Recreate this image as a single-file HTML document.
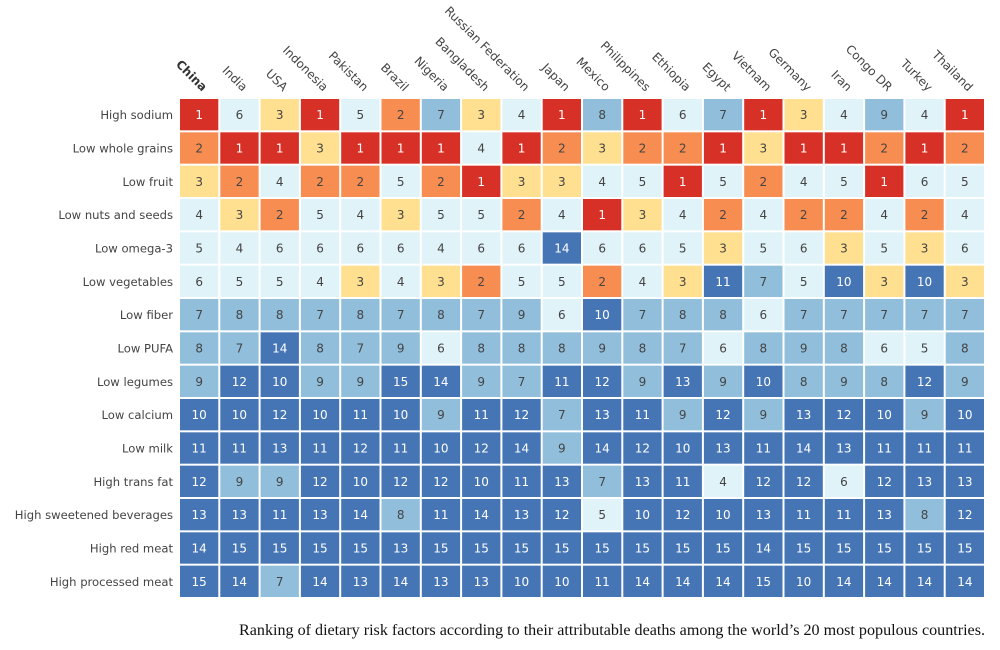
<!DOCTYPE html>
<html><head><meta charset="utf-8"><style>
body{margin:0;background:#fff;width:1000px;height:650px;overflow:hidden}
svg{display:block}
</style></head><body>
<svg id="chart" width="1000" height="650" xmlns="http://www.w3.org/2000/svg">
<text x="985" y="635" text-anchor="end" font-family="Liberation Serif, serif" font-size="16.1" fill="#111">Ranking of dietary risk factors according to their attributable deaths among the world’s 20 most populous countries.</text>
</svg>
<script>
const countries=["China","India","USA","Indonesia","Pakistan","Brazil","Nigeria","Bangladesh","Russian Federation","Japan","Mexico","Philippines","Ethiopia","Egypt","Vietnam","Germany","Iran","Congo DR","Turkey","Thailand"];
const risks=["High sodium","Low whole grains","Low fruit","Low nuts and seeds","Low omega-3","Low vegetables","Low fiber","Low PUFA","Low legumes","Low calcium","Low milk","High trans fat","High sweetened beverages","High red meat","High processed meat"];
const ranks=[
[1,6,3,1,5,2,7,3,4,1,8,1,6,7,1,3,4,9,4,1],
[2,1,1,3,1,1,1,4,1,2,3,2,2,1,3,1,1,2,1,2],
[3,2,4,2,2,5,2,1,3,3,4,5,1,5,2,4,5,1,6,5],
[4,3,2,5,4,3,5,5,2,4,1,3,4,2,4,2,2,4,2,4],
[5,4,6,6,6,6,4,6,6,14,6,6,5,3,5,6,3,5,3,6],
[6,5,5,4,3,4,3,2,5,5,2,4,3,11,7,5,10,3,10,3],
[7,8,8,7,8,7,8,7,9,6,10,7,8,8,6,7,7,7,7,7],
[8,7,14,8,7,9,6,8,8,8,9,8,7,6,8,9,8,6,5,8],
[9,12,10,9,9,15,14,9,7,11,12,9,13,9,10,8,9,8,12,9],
[10,10,12,10,11,10,9,11,12,7,13,11,9,12,9,13,12,10,9,10],
[11,11,13,11,12,11,10,12,14,9,14,12,10,13,11,14,13,11,11,11],
[12,9,9,12,10,12,12,10,11,13,7,13,11,4,12,12,6,12,13,13],
[13,13,11,13,14,8,11,14,13,12,5,10,12,10,13,11,11,13,8,12],
[14,15,15,15,15,13,15,15,15,15,15,15,15,15,14,15,15,15,15,15],
[15,14,7,14,13,14,13,13,10,10,11,14,14,14,15,10,14,14,14,14]
];
const NS="http://www.w3.org/2000/svg";
const svg=document.getElementById('chart');
const x0=179,x1=985,y0=98,y1=598;
const cw=(x1-x0)/countries.length, ch=(y1-y0)/risks.length;
const xPos=i=>x0+i*cw, yPos=j=>y0+j*ch;
function color(v){if(v==1)return"#d73027";if(v==2)return"#f88d52";if(v==3)return"#fee090";if(v<=6)return"#e0f3f8";if(v<=9)return"#91bfdb";return"#4575b4";}
function txtColor(v){return (v==1||v>=10)?"#fff":"#444";}
function mk(tag,attrs){const e=document.createElementNS(NS,tag);for(const k in attrs)e.setAttribute(k,attrs[k]);return e;}
risks.forEach((r,j)=>{
  const t=mk('text',{x:173,y:yPos(j)+ch/2+4.5,'text-anchor':'end','font-family':'DejaVu Sans, sans-serif','font-size':'11.6','fill':'#444'});
  t.textContent=r;
  
  
  svg.appendChild(t);
  ranks[j].forEach((v,i)=>{
    const g=mk('g',{});
    
    
    const rc=mk('rect',{x:xPos(i)+1,y:yPos(j)+1,width:cw-2,height:ch-2,fill:color(v)});
    const tt=mk('text',{x:xPos(i)+cw/2,y:yPos(j)+ch/2+4.5,'text-anchor':'middle','font-family':'DejaVu Sans, sans-serif','font-size':'12','fill':txtColor(v)});
    tt.textContent=v;
    g.appendChild(rc);g.appendChild(tt);svg.appendChild(g);
  });
});
countries.forEach((c,i)=>{
  const cx=xPos(i)+cw/2+3, cy=92;
  const t=mk('text',{x:cx,y:cy,'text-anchor':'end','font-family':'DejaVu Sans, sans-serif','font-size':'12','fill':'#444',transform:`rotate(45 ${cx} ${cy})`});
  if(i===0){t.setAttribute('font-weight','bold');t.setAttribute('fill','#333');}
  t.textContent=c;
  
  
  svg.appendChild(t);
});
</script>
</body></html>
